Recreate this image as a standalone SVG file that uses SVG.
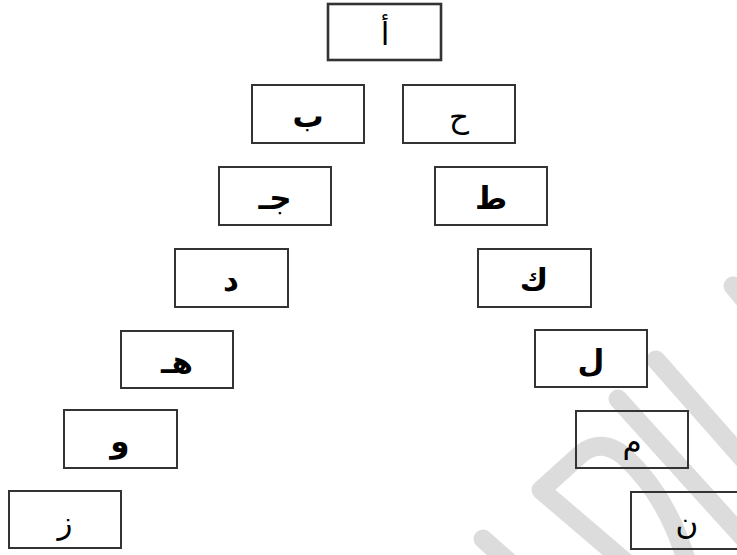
<svg xmlns="http://www.w3.org/2000/svg" width="737" height="555" viewBox="0 0 737 555">
<style>
.box{fill:none;stroke:#333;stroke-width:2}
.t{font-family:"DejaVu Sans",sans-serif;font-size:31px;text-anchor:middle;fill:#000;font-weight:bold}
.r{font-weight:normal}
.wm{fill:none;stroke:#dcdcdc;stroke-width:19;stroke-linecap:round;stroke-linejoin:round}
</style>
<rect width="737" height="555" fill="#fff"/>
<g id="watermark">
<path class="wm" d="M656,360 L760,478"/>
<path class="wm" d="M618,399 L760,556"/>
<path class="wm" d="M630,566 L541,490 L582,453 Q602,438 624,456 Q668,496 688,566"/>
<path class="wm" d="M483,539 L535,585"/>
<path class="wm" d="M733,286 L770,330"/>
</g>
<g id="connectors"></g>
<g id="n1"><rect class="box" x="328" y="4" width="113" height="56" style="stroke-width:2.6"/><text class="t r" x="385" y="45">أ</text></g>
<g id="n2"><rect class="box" x="252" y="85" width="112" height="58"/><text class="t" x="308" y="127">ب</text></g>
<g id="n3"><rect class="box" x="403" y="85" width="112" height="58"/><text class="t r" x="459" y="127">ح</text></g>
<g id="n4"><rect class="box" x="219" y="167" width="112" height="58"/><text class="t" x="275" y="209">جـ</text></g>
<g id="n5"><rect class="box" x="435" y="167" width="112" height="58"/><text class="t" x="491" y="209">ط</text></g>
<g id="n6"><rect class="box" x="175" y="249" width="113" height="58"/><text class="t" x="231" y="291">د</text></g>
<g id="n7"><rect class="box" x="478" y="249" width="113" height="58"/><text class="t" x="534" y="291">ك</text></g>
<g id="n8"><rect class="box" x="121" y="331" width="112" height="57"/><text class="t" x="177" y="373">هـ</text></g>
<g id="n9"><rect class="box" x="535" y="330" width="112" height="57"/><text class="t" x="591" y="372">ل</text></g>
<g id="n10"><rect class="box" x="64" y="410" width="113" height="58"/><text class="t" x="120" y="452">و</text></g>
<g id="n11"><rect class="box" x="576" y="411" width="112" height="57"/><text class="t r" x="632" y="453">م</text></g>
<g id="n12"><rect class="box" x="9" y="491" width="112" height="57"/><text class="t r" x="65" y="533">ز</text></g>
<g id="n13"><rect class="box" x="631" y="492" width="113" height="57"/><text class="t r" x="687" y="534">ن</text></g>
</svg>
